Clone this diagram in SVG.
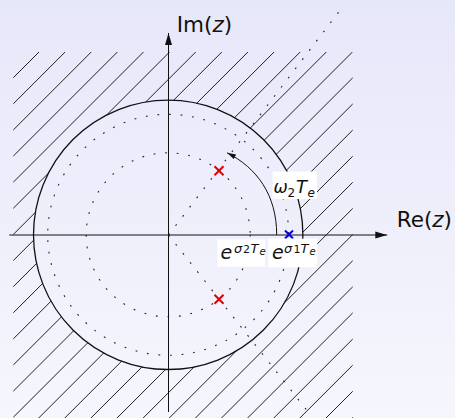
<svg xmlns="http://www.w3.org/2000/svg" width="455" height="418" viewBox="0 0 455 418">
<defs>
<linearGradient id="bg" x1="0" y1="0" x2="0" y2="1">
<stop offset="0" stop-color="#e7e7fa"/>
<stop offset="1" stop-color="#f6f6fd"/>
</linearGradient>
<clipPath id="outside">
<path clip-rule="evenodd" d="M13.3,52 H352.7 V420 H13.3 Z M33.5,234.8 a134.7,134.7 0 1,0 269.4,0 a134.7,134.7 0 1,0 -269.4,0 Z"/>
</clipPath>
<marker id="ah" viewBox="-12 -4 12 8" refX="0" refY="0" markerWidth="12" markerHeight="8" markerUnits="userSpaceOnUse" orient="auto">
<path d="M0,0 L-12,-3.5 L-12,3.5 Z" fill="#111"/>
</marker>
<marker id="ahs" viewBox="-9 -3 9 6" refX="0" refY="0" markerWidth="9" markerHeight="6" markerUnits="userSpaceOnUse" orient="auto">
<path d="M0,0 L-9,-2.6 L-9,2.6 Z" fill="#111"/>
</marker>
</defs>
<style>
.hatch{stroke:#222;stroke-width:1;fill:none}
.solid{stroke:#111;stroke-width:1.3;fill:none}
.dot{stroke:#222;stroke-width:1.1;fill:none;stroke-dasharray:1.8 9.8}
.axis{stroke:#111;stroke-width:1;fill:none}
.lbl{font-family:"DejaVu Sans",sans-serif;fill:#111}
.m{font-family:"DejaVu Sans",sans-serif;font-style:italic;fill:#111}
.d{font-family:"DejaVu Sans",sans-serif;fill:#111}
.box{fill:#ffffff}
.rx{stroke:#e00000;stroke-width:2;fill:none}
.bx{stroke:#0000ee;stroke-width:2;fill:none}
</style>
<rect x="0" y="0" width="455" height="418" fill="url(#bg)"/>
<g id="hatch" clip-path="url(#outside)">
<path class="hatch" d="M-339,430 L51,40 M-312.88,430 L77.12,40 M-286.76,430 L103.24,40 M-260.64,430 L129.36,40 M-234.52,430 L155.48,40 M-208.4,430 L181.6,40 M-182.28,430 L207.72,40 M-156.16,430 L233.84,40 M-130.04,430 L259.96,40 M-103.92,430 L286.08,40 M-77.8,430 L312.2,40 M-51.68,430 L338.32,40 M-25.56,430 L364.44,40 M0.56,430 L390.56,40 M26.68,430 L416.68,40 M52.8,430 L442.8,40 M78.92,430 L468.92,40 M105.04,430 L495.04,40 M131.16,430 L521.16,40 M157.28,430 L547.28,40 M183.4,430 L573.4,40 M209.52,430 L599.52,40 M235.64,430 L625.64,40 M261.76,430 L651.76,40 M287.88,430 L677.88,40 M314,430 L704,40 M340.12,430 L730.12,40"/>
</g>
<g id="unit-circle">
<circle class="solid" cx="168.2" cy="234.8" r="134.7"/>
</g>
<g id="dotted-circles">
<circle class="dot" cx="168.2" cy="234.8" r="120.5"/>
<circle class="dot" cx="168.2" cy="234.8" r="82"/>
</g>
<g id="connectors">
<path class="dot" d="M168.5,235 L341,9"/>
<path class="dot" d="M168.5,235 L309,413"/>
<path class="axis" d="M9.3,235 L387.3,235" marker-end="url(#ah)"/>
<path class="axis" d="M168.5,412 L168.5,33" marker-end="url(#ah)"/>
<path class="axis" d="M276.7,235 C276.7,195 257,168 227,152.7" marker-end="url(#ahs)"/>
</g>
<g id="pole-upper"><path class="rx" d="M214.5,166.2 L223.5,175.2 M223.5,166.2 L214.5,175.2"/></g>
<g id="pole-lower"><path class="rx" d="M214.5,294.8 L223.5,303.8 M223.5,294.8 L214.5,303.8"/></g>
<g id="pole-real"><path class="bx" d="M285,230.5 L293,238.5 M293,230.5 L285,238.5"/></g>
<g id="label-im"><text class="lbl" x="176.7" y="31.7" font-size="21.5">Im(<tspan font-style="italic">z</tspan>)</text></g>
<g id="label-re"><text class="lbl" x="396.7" y="226.7" font-size="21.5">Re(<tspan font-style="italic">z</tspan>)</text></g>
<g id="label-omega">
<rect class="box" x="272.5" y="171.5" width="44.5" height="27.5"/>
<text class="m" x="273.5" y="193.3" font-size="17">ω</text>
<text class="d" x="287.5" y="197" font-size="12">2</text>
<text class="m" x="296" y="193.3" font-size="18">T</text>
<text class="m" x="307.5" y="197" font-size="12">e</text>
</g>
<g id="label-sigma2">
<rect class="box" x="217.3" y="239.3" width="47.7" height="27.4"/>
<text class="m" x="220.5" y="259" font-size="19">e</text>
<text class="m" x="234" y="252.5" font-size="13">σ</text>
<text class="d" x="243" y="252.5" font-size="11">2</text>
<text class="m" x="250.5" y="252.5" font-size="13">T</text>
<text class="m" x="259.5" y="255" font-size="10">e</text>
</g>
<g id="label-sigma1">
<rect class="box" x="268.3" y="238.7" width="49" height="28.6"/>
<text class="m" x="272" y="259" font-size="19">e</text>
<text class="m" x="284" y="252.5" font-size="13">σ</text>
<text class="d" x="293.5" y="252.5" font-size="11">1</text>
<text class="m" x="300.5" y="252.5" font-size="13">T</text>
<text class="m" x="309.5" y="255" font-size="10">e</text>
</g>
</svg>
